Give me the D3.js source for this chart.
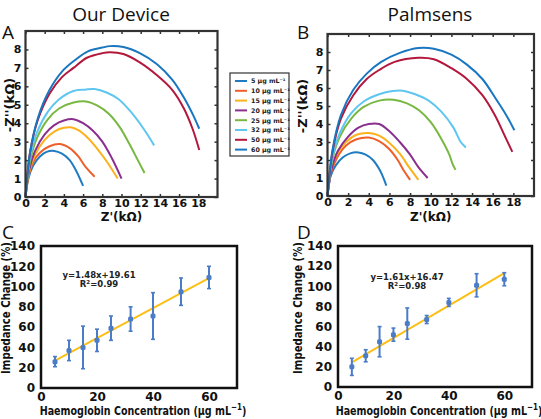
<!DOCTYPE html>
<html><head><meta charset="utf-8">
<script src="https://cdn.jsdelivr.net/npm/d3@7"></script>
<style>body{margin:0;background:#fff}svg{display:block}</style>
</head><body>
<svg id="c" width="541" height="419"></svg>
<script>
// ---------- DATA ----------
const concentrations = [5, 10, 15, 20, 25, 32, 50, 60];
const seriesLabels = ["5 μg mL⁻¹","10 μg mL⁻¹","15 μg mL⁻¹","20 μg mL⁻¹","25 μg mL⁻¹","32 μg mL⁻¹","50 μg mL⁻¹","60 μg mL⁻¹"];
const seriesColors = ["#1f7cc2","#ee5f2a","#fbb21c","#8b2f8f","#78b842","#5ec6f0","#b3183c","#1976c0"];

// Nyquist, Our Device: [Z', -Z''] in kΩ
const nyqA_5  = [[0,0],[0.3,1.0],[0.8,1.7],[1.5,2.2],[2.2,2.45],[3,2.5],[3.8,2.35],[4.6,2.0],[5.3,1.4],[6,0.6]];
const nyqA_10 = [[0,0],[0.3,1.1],[0.8,1.9],[1.5,2.4],[2.5,2.75],[3.6,2.87],[4.6,2.65],[5.5,2.2],[6.3,1.6],[7.2,1.1]];
const nyqA_15 = [[0,0],[0.4,1.4],[1,2.3],[2,3.1],[3,3.55],[4,3.75],[4.7,3.78],[5.5,3.62],[6.5,3.2],[7.5,2.6],[8.5,1.9],[9.6,1.0]];
const nyqA_20 = [[0,0],[0.4,1.5],[1,2.5],[2,3.4],[3,3.9],[4,4.15],[5,4.22],[6,4.0],[7,3.6],[8,3.0],[9,2.1],[10,1.0]];
const nyqA_25 = [[0,0],[0.5,2.0],[1.2,3.2],[2.3,4.2],[3.5,4.8],[5,5.12],[6.3,5.18],[7.5,4.95],[8.7,4.5],[9.8,3.8],[10.8,2.9],[11.7,2.0],[12.4,1.3]];
const nyqA_32 = [[0,0],[0.5,2.2],[1.2,3.5],[2.3,4.6],[3.5,5.3],[5,5.75],[6.2,5.82],[7.2,5.85],[8.5,5.65],[9.7,5.3],[11,4.6],[12.3,3.7],[13.4,2.8]];
const nyqA_50 = [[0,0],[0.5,2.5],[1.3,4.2],[2.5,5.6],[3.8,6.5],[5,7.0],[6.4,7.55],[8,7.8],[8.8,7.85],[10.2,7.75],[11.9,7.3],[13.7,6.6],[15.3,5.8],[16.5,4.8],[17.4,3.7],[18.1,2.55]];
const nyqA_60 = [[0,0],[0.5,2.5],[1.3,4.3],[2.5,5.8],[3.8,6.8],[5.1,7.4],[6.5,7.9],[8,8.1],[8.8,8.18],[10.2,8.13],[11.9,7.8],[13.7,7.2],[15.3,6.35],[16.6,5.3],[17.5,4.4],[18.1,3.7]];

// Nyquist, Palmsens
const nyqB_5  = [[0,0],[0.3,1.1],[0.8,1.7],[1.5,2.15],[2.2,2.37],[3,2.42],[3.7,2.3],[4.4,2.0],[5.1,1.4],[5.7,0.58]];
const nyqB_10 = [[0,0],[0.3,1.2],[0.9,2.1],[1.8,2.8],[2.8,3.15],[4,3.25],[5,3.05],[6,2.6],[6.8,2.0],[7.4,1.4],[8.0,0.9]];
const nyqB_15 = [[0,0],[0.3,1.3],[0.9,2.3],[1.8,3.0],[2.8,3.4],[4,3.5],[5,3.35],[6,2.95],[7,2.35],[7.9,1.6],[8.8,0.9]];
const nyqB_20 = [[0,0],[0.4,1.5],[1,2.5],[2,3.3],[3,3.8],[4,4.0],[5,4.0],[6,3.6],[7,3.0],[8,2.3],[8.8,1.6],[9.7,1.0]];
const nyqB_25 = [[0,0],[0.5,2.1],[1.2,3.3],[2.3,4.3],[3.5,4.95],[5,5.3],[6.4,5.35],[7.7,5.15],[8.9,4.75],[10,4.1],[11,3.2],[11.8,2.3],[12.1,1.8],[12.4,1.45]];
const nyqB_32 = [[0,0],[0.5,2.2],[1.2,3.5],[2.3,4.6],[3.5,5.25],[5,5.65],[6.3,5.83],[7.3,5.85],[8.5,5.65],[9.8,5.3],[11,4.7],[12.2,3.8],[12.9,3.0],[13.4,2.7]];
const nyqB_50 = [[0,0],[0.5,2.5],[1.3,4.3],[2.5,5.6],[3.8,6.5],[5,7.0],[6.5,7.45],[8.8,7.68],[10.3,7.6],[12,7.1],[13.5,6.5],[15,5.6],[16.2,4.5],[17.2,3.3],[17.9,2.45]];
const nyqB_60 = [[0,0],[0.5,2.6],[1.3,4.5],[2.5,5.9],[3.8,6.8],[5.2,7.45],[7,7.95],[8.8,8.22],[10.3,8.18],[12,7.85],[13.5,7.3],[15,6.5],[16.3,5.4],[17.3,4.5],[18.1,3.65]];

// Calibration
const calibX  = [5, 10, 15, 20, 25, 32, 40, 50, 60];
const calibC_y   = [26, 37, 40, 47, 59, 68, 71, 95, 109];
const calibC_err = [5, 10, 21, 11, 12, 12, 23, 13.5, 11];
const calibD_y   = [20, 31, 45, 52, 63, 67, 84, 101, 107];
const calibD_err = [8.5, 6, 15, 6.5, 15.5, 4, 4, 11.5, 6.5];
const fitC = {slope: 1.48, intercept: 19.61, eq: "y=1.48x+19.61", r2: "0.99"};
const fitD = {slope: 1.61, intercept: 16.47, eq: "y=1.61x+16.47", r2: "0.98"};

const nyqTicksX = [0,2,4,6,8,10,12,14,16,18];
const nyqTicksY = [0,1,2,3,4,5,6,7,8];
const calTicksX = [0,20,40,60];
const calTicksY = [0,20,40,60,80,100,120,140];

// ---------- DRAW ----------
const svg = d3.select("#c");
const BF = "'DejaVu Sans', Verdana, sans-serif";
const TF = "'Open Sans', sans-serif";

// squeeze a text horizontally (in its own frame) to a target length
function fitText(sel, cx, cy, rot, target) {
  const w = sel.node().getComputedTextLength();
  const s = Math.min(1, target / w);
  sel.attr("transform", `translate(${cx},${cy}) rotate(${rot}) scale(${s},1)`);
}

function nyquist(seriesList, box, title, titleX, letter, letterX, ylabX) {
  const x = d3.scaleLinear().domain([0,20]).range([box.x0, box.x1]);
  const y = d3.scaleLinear().domain([0,9]).range([box.y0, box.y1]);
  const g = svg.append("g");
  const styleAxis = (gg, lab) => {
    gg.select(".domain").remove();
    gg.selectAll("line").attr("stroke","#333").attr("stroke-width",1.5);
    gg.selectAll("text").attr("font-family",BF).attr("font-weight","bold").attr("font-size",11).attr("fill","#111");
    if (!lab) gg.selectAll("text").remove();
  };
  styleAxis(g.append("g").attr("transform",`translate(0,${box.y0})`)
    .call(d3.axisBottom(x).tickValues(nyqTicksX).tickSizeInner(-3).tickSizeOuter(0).tickPadding(2)), true);
  styleAxis(g.append("g").attr("transform",`translate(0,${box.y1})`)
    .call(d3.axisTop(x).tickValues(nyqTicksX).tickSizeInner(-3).tickSizeOuter(0)), false);
  styleAxis(g.append("g").attr("transform",`translate(${box.x0},0)`)
    .call(d3.axisLeft(y).tickValues(nyqTicksY).tickSizeInner(-3).tickSizeOuter(0).tickPadding(4)), true);
  styleAxis(g.append("g").attr("transform",`translate(${box.x1},0)`)
    .call(d3.axisRight(y).tickValues(nyqTicksY).tickSizeInner(-3).tickSizeOuter(0)), false);

  const line = d3.line().x(d=>x(d[0])).y(d=>y(d[1])).curve(d3.curveCatmullRom.alpha(0.5));
  seriesList.forEach((s,i) => {
    g.append("path").attr("d", line(s)).attr("fill","none")
      .attr("stroke", seriesColors[i]).attr("stroke-width", 2);
  });
  g.append("rect").attr("x",box.x0).attr("y",box.y1).attr("width",box.x1-box.x0).attr("height",box.y0-box.y1)
    .attr("fill","none").attr("stroke","#333").attr("stroke-width",2.2);
  svg.append("text").attr("x",titleX).attr("y",20.5).attr("text-anchor","middle")
    .attr("font-family",TF).attr("font-size",19).attr("fill","#111").text(title);
  svg.append("text").attr("x",letterX).attr("y",39)
    .attr("font-family",TF).attr("font-size",19).attr("fill","#111").text(letter);
  const yl = svg.append("text").attr("text-anchor","middle").attr("font-family",BF).attr("font-weight","bold")
    .attr("font-size",13).attr("fill","#111").text("-Z''(kΩ)");
  fitText(yl, ylabX, (box.y0+box.y1)/2 - 9, -90, 60);
  svg.append("text").attr("x",(box.x0+box.x1)/2).attr("y",221).attr("text-anchor","middle")
    .attr("font-family",BF).attr("font-weight","bold").attr("font-size",12).attr("fill","#111").text("Z'(kΩ)");
}

nyquist([nyqA_5,nyqA_10,nyqA_15,nyqA_20,nyqA_25,nyqA_32,nyqA_50,nyqA_60],
  {x0:25.5, x1:217.5, y0:197, y1:31}, "Our Device", 121, "A", 2, 14);
nyquist([nyqB_5,nyqB_10,nyqB_15,nyqB_20,nyqB_25,nyqB_32,nyqB_50,nyqB_60],
  {x0:327.5, x1:534, y0:196, y1:34}, "Palmsens", 430, "B", 297, 307);

// legend
const lg = svg.append("g");
lg.append("rect").attr("x",230).attr("y",73).attr("width",59).attr("height",83)
  .attr("fill","#fff").attr("stroke","#333").attr("stroke-width",1.2);
seriesLabels.forEach((t,i) => {
  const yy = 81 + i*9.8;
  lg.append("line").attr("x1",235).attr("x2",247).attr("y1",yy).attr("y2",yy)
    .attr("stroke",seriesColors[i]).attr("stroke-width",2);
  lg.append("text").attr("x",251).attr("y",yy+2.3).attr("font-family",BF).attr("font-weight","bold")
    .attr("font-size",6.3).attr("fill","#222").text(t);
});

function calib(yv, err, fit, box, letter, letterX, ylabX, eqX, eqY) {
  const x = d3.scaleLinear().domain([0,70]).range([box.x0, box.x1]);
  const y = d3.scaleLinear().domain([0,140]).range([box.y0, box.y1]);
  const g = svg.append("g");
  const gx = g.append("g").attr("transform",`translate(0,${box.y0})`)
    .call(d3.axisBottom(x).tickValues(calTicksX).tickSize(0).tickPadding(4));
  gx.select(".domain").remove();
  gx.selectAll("text").attr("font-family",BF).attr("font-weight","bold").attr("font-size",12).attr("fill","#111");
  const gy = g.append("g").attr("transform",`translate(${box.x0},0)`)
    .call(d3.axisLeft(y).tickValues(calTicksY).tickSize(0).tickPadding(6));
  gy.select(".domain").remove();
  gy.selectAll("text").attr("font-family",BF).attr("font-weight","bold").attr("font-size",12).attr("fill","#111");
  // fit line
  g.append("line").attr("x1",x(5)).attr("x2",x(60))
    .attr("y1",y(fit.slope*5+fit.intercept)).attr("y2",y(fit.slope*60+fit.intercept))
    .attr("stroke","#fdbf16").attr("stroke-width",2);
  const col = "#4a7cc8";
  calibX.forEach((cx,i) => {
    const px = x(cx);
    g.append("line").attr("x1",px).attr("x2",px).attr("y1",y(yv[i]-err[i])).attr("y2",y(yv[i]+err[i]))
      .attr("stroke",col).attr("stroke-width",2);
    [yv[i]-err[i], yv[i]+err[i]].forEach(v => g.append("line").attr("x1",px-2).attr("x2",px+2)
      .attr("y1",y(v)).attr("y2",y(v)).attr("stroke",col).attr("stroke-width",1.6));
    g.append("rect").attr("x",px-2.5).attr("y",y(yv[i])-2.5).attr("width",5).attr("height",5)
      .attr("rx",1.5).attr("fill",col);
  });
  g.append("rect").attr("x",box.x0).attr("y",box.y1).attr("width",box.x1-box.x0).attr("height",box.y0-box.y1)
    .attr("fill","none").attr("stroke","#111").attr("stroke-width",2.5);
  g.append("text").attr("x",eqX).attr("y",eqY).attr("text-anchor","middle").attr("font-family",BF)
    .attr("font-weight","bold").attr("font-size",8.5).attr("fill","#222").text(fit.eq);
  const r = g.append("text").attr("x",eqX).attr("y",eqY+9).attr("text-anchor","middle").attr("font-family",BF)
    .attr("font-weight","bold").attr("font-size",8.5).attr("fill","#222");
  r.append("tspan").text("R");
  r.append("tspan").attr("font-size",5.5).attr("dy",-3.5).text("2");
  r.append("tspan").attr("dy",3.5).text("=" + fit.r2);
  svg.append("text").attr("x",letterX).attr("y",239)
    .attr("font-family",TF).attr("font-size",19).attr("fill","#111").text(letter);
  const yl = svg.append("text").attr("text-anchor","middle").attr("font-family",BF).attr("font-weight","bold")
    .attr("font-size",12).attr("fill","#111").text("Impedance Change (%)");
  fitText(yl, ylabX, 308, -90, 132);
  const xl = svg.append("text").attr("text-anchor","middle")
    .attr("font-family",BF).attr("font-weight","bold").attr("font-size",12).attr("fill","#111");
  xl.append("tspan").text("Haemoglobin Concentration (μg mL");
  xl.append("tspan").attr("font-size",9).attr("dy",-5).text("−1");
  xl.append("tspan").attr("dy",5).text(")");
  fitText(xl, (box.x0+box.x1)/2 + 4, 415, 0, 207);
}

calib(calibC_y, calibC_err, fitC, {x0:41, x1:237, y0:388, y1:246}, "C", 2, 10, 99, 278);
calib(calibD_y, calibD_err, fitD, {x0:338, x1:532, y0:387, y1:246}, "D", 297, 302, 407, 280);
</script>
</body></html>
